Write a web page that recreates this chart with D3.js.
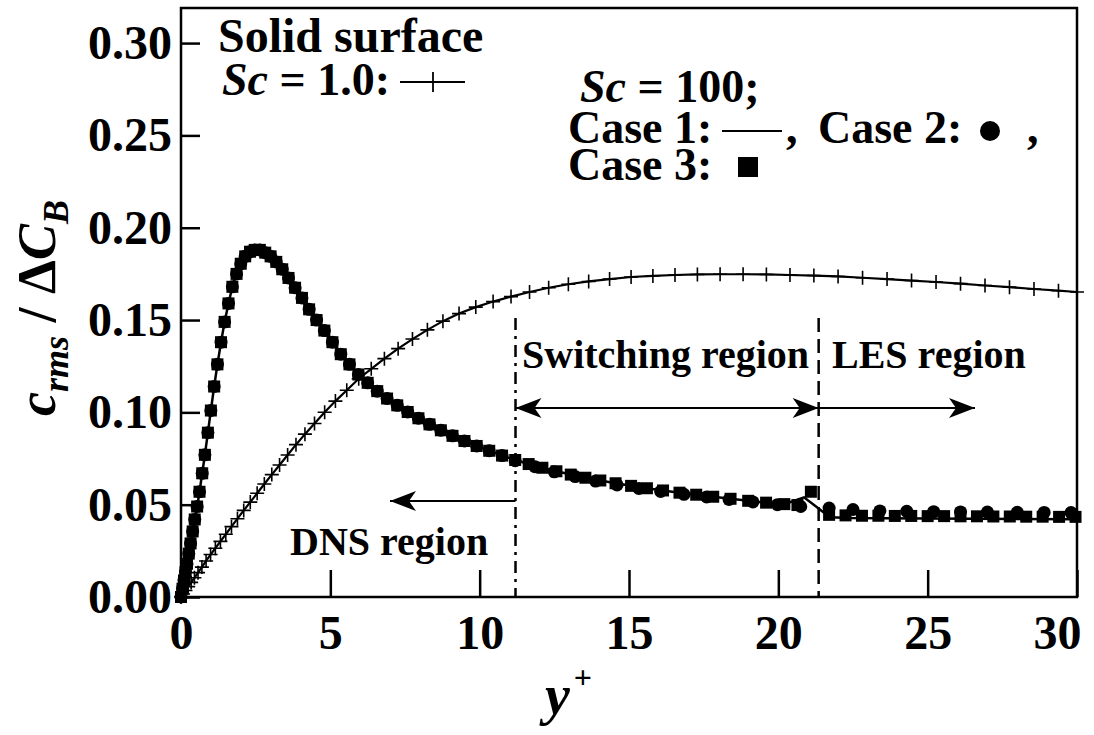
<!DOCTYPE html>
<html>
<head>
<meta charset="utf-8">
<script src="https://d3js.org/d3.v7.min.js"></script>
<style>
body { margin: 0; background: #fff; }
svg text { font-family: "Liberation Serif", "Times New Roman", serif; font-weight: bold; fill: #000; }
</style>
</head>
<body>
<div id="chart"></div>
<script>
// Axis ticks
var yPlusTicks = [0, 5, 10, 15, 20, 25, 30];
var cTicks = [0, 0.05, 0.10, 0.15, 0.20, 0.25, 0.30];

// Region bounds (y+)
var switchStart = 11.2;
var switchEnd = 21.35;

// Solid surface, Sc = 1.0 (line with + markers)
var sc1X = [0, 0.07, 0.15, 0.24, 0.34, 0.45, 0.57, 0.70, 0.84, 0.99, 1.15, 1.32, 1.50, 1.69, 1.89, 2.10, 2.32, 2.55, 2.79, 3.04, 3.30, 3.57, 3.85, 4.15, 4.47, 4.81, 5.17, 5.55, 5.95, 6.37, 6.81, 7.27, 7.75, 8.25, 8.77, 9.31, 9.87, 10.45, 11.05, 11.67, 12.31, 12.97, 13.65, 14.35, 15.07, 15.80, 16.54, 17.29, 18.05, 18.82, 19.60, 20.39, 21.19, 22.00, 22.82, 23.64, 24.46, 25.28, 26.10, 26.92, 27.74, 28.56, 29.38, 30.0];
var sc1Y = [0, 0.0016, 0.0035, 0.0056, 0.0079, 0.0104, 0.0132, 0.0162, 0.0195, 0.0230, 0.0264, 0.0301, 0.0340, 0.0381, 0.0424, 0.0469, 0.0514, 0.0562, 0.0612, 0.0663, 0.0715, 0.0769, 0.0825, 0.0882, 0.0940, 0.1001, 0.1061, 0.1120, 0.1182, 0.1236, 0.1291, 0.1345, 0.1397, 0.1447, 0.1494, 0.1535, 0.1570, 0.1600, 0.1627, 0.1652, 0.1675, 0.1694, 0.1709, 0.1722, 0.1733, 0.1739, 0.1744, 0.1747, 0.1748, 0.1748, 0.1747, 0.1744, 0.1741, 0.1736, 0.1729, 0.1722, 0.1714, 0.1706, 0.1697, 0.1687, 0.1678, 0.1668, 0.1659, 0.1652];

// Sc = 100, Case 1 (solid line)
var case1X = [0, 0.05, 0.1, 0.15, 0.2, 0.26, 0.32, 0.39, 0.46, 0.54, 0.62, 0.71, 0.8, 0.9, 1.0, 1.11, 1.22, 1.34, 1.46, 1.59, 1.72, 1.86, 2.0, 2.15, 2.31, 2.47, 2.64, 2.82, 3.0, 3.19, 3.39, 3.6, 3.82, 4.05, 4.29, 4.54, 4.8, 5.07, 5.35, 5.64, 5.94, 6.25, 6.57, 6.9, 7.24, 7.59, 7.95, 8.32, 8.7, 9.09, 9.49, 9.9, 10.32, 10.75, 11.19, 11.64, 12.1, 12.57, 13.05, 13.54, 14.04, 14.55, 15.07, 15.6, 16.14, 16.69, 17.25, 17.82, 18.4, 18.99, 19.59, 20.2, 20.86, 21.53, 21.75, 22.4, 23.5, 25.0, 26.5, 28.0, 30.0];
var case1Y = [0, 0.0045, 0.009, 0.0135, 0.018, 0.0235, 0.029, 0.0355, 0.042, 0.049, 0.057, 0.067, 0.077, 0.089, 0.101, 0.114, 0.126, 0.138, 0.149, 0.159, 0.168, 0.175, 0.1805, 0.1845, 0.187, 0.188, 0.188, 0.1865, 0.1845, 0.1815, 0.1775, 0.1728, 0.1675, 0.162, 0.1558, 0.150, 0.1443, 0.138, 0.1315, 0.126, 0.1205, 0.116, 0.1115, 0.1075, 0.1038, 0.1002, 0.0968, 0.0935, 0.0903, 0.0873, 0.0845, 0.0818, 0.0792, 0.0766, 0.0742, 0.0720, 0.0700, 0.0681, 0.0663, 0.0646, 0.0631, 0.0616, 0.0602, 0.0589, 0.0577, 0.0565, 0.0554, 0.0543, 0.0532, 0.0521, 0.0511, 0.0503, 0.0540, 0.0457, 0.0432, 0.0428, 0.0427, 0.0425, 0.0424, 0.0423, 0.0421];

// Sc = 100, Case 2 (circles)
var case2X = [0, 0.05, 0.1, 0.15, 0.2, 0.26, 0.32, 0.39, 0.46, 0.54, 0.62, 0.71, 0.8, 0.9, 1.0, 1.11, 1.22, 1.34, 1.46, 1.59, 1.72, 1.86, 2.0, 2.15, 2.31, 2.47, 2.64, 2.82, 3.0, 3.19, 3.39, 3.6, 3.82, 4.05, 4.29, 4.54, 4.8, 5.07, 5.35, 5.64, 5.94, 6.25, 6.57, 6.9, 7.24, 7.59, 7.95, 8.32, 8.7, 9.09, 9.49, 9.9, 10.32, 10.75, 11.19, 11.85, 12.5, 13.2, 13.88, 14.6, 15.33, 16.06, 16.84, 17.6, 18.35, 19.15, 19.97, 20.75, 21.7, 22.5, 23.4, 24.3, 25.2, 26.1, 27.0, 28.0, 28.9, 29.8];
var case2Y = [0, 0.0045, 0.009, 0.0135, 0.018, 0.0235, 0.029, 0.0355, 0.042, 0.049, 0.057, 0.067, 0.077, 0.089, 0.101, 0.114, 0.126, 0.138, 0.149, 0.159, 0.168, 0.175, 0.1805, 0.1845, 0.187, 0.188, 0.188, 0.1865, 0.1845, 0.1815, 0.1775, 0.1728, 0.1675, 0.162, 0.1558, 0.150, 0.1443, 0.138, 0.1315, 0.126, 0.1205, 0.116, 0.1115, 0.1075, 0.1038, 0.1002, 0.0968, 0.0935, 0.0903, 0.0873, 0.0845, 0.0818, 0.0792, 0.0766, 0.0738, 0.0706, 0.0678, 0.0652, 0.0628, 0.0607, 0.0588, 0.0572, 0.0556, 0.0542, 0.0528, 0.0515, 0.0500, 0.0490, 0.0482, 0.0474, 0.0466, 0.0464, 0.0462, 0.0461, 0.0460, 0.0459, 0.0458, 0.0457];

// Sc = 100, Case 3 (squares)
var case3X = [0, 0.05, 0.1, 0.15, 0.2, 0.26, 0.32, 0.39, 0.46, 0.54, 0.62, 0.71, 0.8, 0.9, 1.0, 1.11, 1.22, 1.34, 1.46, 1.59, 1.72, 1.86, 2.0, 2.15, 2.31, 2.47, 2.64, 2.82, 3.0, 3.19, 3.39, 3.6, 3.82, 4.05, 4.29, 4.54, 4.8, 5.07, 5.35, 5.64, 5.94, 6.25, 6.57, 6.9, 7.24, 7.59, 7.95, 8.32, 8.7, 9.09, 9.49, 9.9, 10.32, 10.75, 11.19, 11.64, 12.1, 12.57, 13.05, 13.54, 14.04, 14.55, 15.07, 15.6, 16.14, 16.69, 17.25, 17.82, 18.4, 18.99, 19.59, 20.2, 20.64, 21.09, 21.7, 22.25, 22.8, 23.35, 23.9, 24.45, 25.0, 25.55, 26.1, 26.65, 27.2, 27.75, 28.3, 28.85, 29.4, 29.95];
var case3Y = [0, 0.0045, 0.009, 0.0135, 0.018, 0.0235, 0.029, 0.0355, 0.042, 0.049, 0.057, 0.067, 0.077, 0.089, 0.101, 0.114, 0.126, 0.138, 0.149, 0.159, 0.168, 0.175, 0.1805, 0.1845, 0.187, 0.188, 0.188, 0.1865, 0.1845, 0.1815, 0.1775, 0.1728, 0.1675, 0.162, 0.1558, 0.150, 0.1443, 0.138, 0.1315, 0.126, 0.1205, 0.116, 0.1115, 0.1075, 0.1038, 0.1002, 0.0968, 0.0935, 0.0903, 0.0873, 0.0845, 0.0818, 0.0792, 0.0766, 0.0742, 0.0720, 0.0700, 0.0681, 0.0663, 0.0646, 0.0631, 0.0616, 0.0602, 0.0589, 0.0577, 0.0565, 0.0554, 0.0543, 0.0532, 0.0521, 0.0511, 0.0503, 0.0498, 0.0570, 0.0445, 0.0442, 0.0440, 0.0440, 0.0439, 0.0439, 0.0438, 0.0438, 0.0437, 0.0437, 0.0436, 0.0436, 0.0435, 0.0435, 0.0434, 0.0434];

//Width and height of page
var width = 1094;
var height = 735;

//Plot area edges
var plotLeft = 181, plotRight = 1077, plotTop = 8, plotBottom = 597;

var svg = d3.select("#chart")
    .append("svg")
    .attr("width", width)
    .attr("height", height);

//Scales
var x = d3.scaleLinear().domain([0, 30]).range([plotLeft, plotRight]);
var y = d3.scaleLinear().domain([0, 0.319]).range([plotBottom, plotTop]);

//Axes, ticks pointing inward
var yAxis = d3.axisLeft(y)
    .tickValues(cTicks)
    .tickSize(-19)
    .tickPadding(9)
    .tickFormat(d3.format(".2f"));
var xAxis = d3.axisBottom(x)
    .tickValues(yPlusTicks)
    .tickSize(-27)
    .tickPadding(18)
    .tickFormat(d3.format("d"));

var gy = svg.append("g")
    .attr("transform", "translate(" + plotLeft + ",0)")
    .call(yAxis);
var gx = svg.append("g")
    .attr("transform", "translate(0," + plotBottom + ")")
    .call(xAxis);

[gx, gy].forEach(function(g) {
    g.select(".domain").remove();
    g.selectAll(".tick line").attr("stroke", "#000").attr("stroke-width", 2.5);
    g.selectAll(".tick text")
        .style("font-size", "48px")
        .attr("fill", "#000");
});

// last x label kept inside the page
gx.selectAll(".tick text")
    .filter(function(d) { return d === 30; })
    .attr("text-anchor", "end")
    .attr("x", 4);

//Region boundaries
svg.append("line")
    .attr("x1", x(switchStart)).attr("x2", x(switchStart))
    .attr("y1", 318).attr("y2", plotBottom)
    .attr("stroke", "#000").attr("stroke-width", 2.5)
    .attr("stroke-dasharray", "12,6,3,6");
svg.append("line")
    .attr("x1", x(switchEnd)).attr("x2", x(switchEnd))
    .attr("y1", 318).attr("y2", plotBottom)
    .attr("stroke", "#000").attr("stroke-width", 2.5)
    .attr("stroke-dasharray", "14,7");

//Curves
var line = d3.line()
    .x(function(d) { return x(d[0]); })
    .y(function(d) { return y(d[1]); });

svg.append("path")
    .datum(d3.zip(sc1X, sc1Y))
    .attr("d", line)
    .attr("fill", "none")
    .attr("stroke", "#000")
    .attr("stroke-width", 2.2);

svg.selectAll(".plus")
    .data(d3.zip(sc1X, sc1Y))
    .enter()
    .append("path")
    .attr("class", "plus")
    .attr("transform", function(d) { return "translate(" + x(d[0]) + "," + y(d[1]) + ")"; })
    .attr("d", "M-7,0H7M0,-7V7")
    .attr("stroke", "#000")
    .attr("stroke-width", 1.6);

svg.append("path")
    .datum(d3.zip(case1X, case1Y))
    .attr("d", line)
    .attr("fill", "none")
    .attr("stroke", "#000")
    .attr("stroke-width", 2.5);

svg.selectAll(".dot")
    .data(d3.zip(case2X, case2Y))
    .enter()
    .append("circle")
    .attr("class", "dot")
    .attr("cx", function(d) { return x(d[0]); })
    .attr("cy", function(d) { return y(d[1]); })
    .attr("r", 6.5)
    .attr("fill", "#000");

svg.selectAll(".sq")
    .data(d3.zip(case3X, case3Y))
    .enter()
    .append("rect")
    .attr("class", "sq")
    .attr("x", function(d) { return x(d[0]) - 6; })
    .attr("y", function(d) { return y(d[1]) - 6; })
    .attr("width", 12)
    .attr("height", 12)
    .attr("fill", "#000");

//Frame
svg.append("rect")
    .attr("x", plotLeft).attr("y", plotTop)
    .attr("width", plotRight - plotLeft).attr("height", plotBottom - plotTop)
    .attr("fill", "none")
    .attr("stroke", "#000")
    .attr("stroke-width", 2.5);

//Arrows
function arrowHead(px, py, dir) {
    svg.append("path")
        .attr("transform", "translate(" + px + "," + py + ") scale(" + dir + ",1)")
        .attr("d", "M0,0L26,-10L19,0L26,10Z")
        .attr("fill", "#000");
}
function hLine(x1, x2, py) {
    svg.append("line")
        .attr("x1", x1).attr("x2", x2)
        .attr("y1", py).attr("y2", py)
        .attr("stroke", "#000").attr("stroke-width", 2.2);
}
hLine(x(switchStart), x(switchEnd), 408);
arrowHead(x(switchStart), 408, 1);
arrowHead(x(switchEnd), 408, -1);
hLine(x(switchEnd), 975, 408);
arrowHead(975, 408, -1);
hLine(390, x(switchStart), 501);
arrowHead(390, 501, 1);

//Region labels
svg.append("text").attr("x", 522).attr("y", 368).style("font-size", "40px").text("Switching region");
svg.append("text").attr("x", 832).attr("y", 368).style("font-size", "40px").text("LES region");
svg.append("text").attr("x", 290).attr("y", 555).style("font-size", "40px").text("DNS region");

//Legend
svg.append("text").attr("x", 218).attr("y", 52).style("font-size", "48px").text("Solid surface");

var t1 = svg.append("text").attr("x", 222).attr("y", 95).style("font-size", "46px");
t1.append("tspan").style("font-style", "italic").text("Sc");
t1.append("tspan").text(" = 1.0:");
hLine(400, 465, 82);
svg.append("path")
    .attr("transform", "translate(433,82)")
    .attr("d", "M0,-10V10")
    .attr("stroke", "#000").attr("stroke-width", 1.8);

var t2 = svg.append("text").attr("x", 580).attr("y", 102).style("font-size", "46px");
t2.append("tspan").style("font-style", "italic").text("Sc");
t2.append("tspan").text(" = 100;");

svg.append("text").attr("x", 568).attr("y", 143).style("font-size", "46px").text("Case 1:");
hLine(722, 782, 131);
svg.append("text").attr("x", 786).attr("y", 143).style("font-size", "46px").text(",");
svg.append("text").attr("x", 818).attr("y", 143).style("font-size", "46px").text("Case 2:");
svg.append("circle").attr("cx", 990).attr("cy", 131).attr("r", 10).attr("fill", "#000");
svg.append("text").attr("x", 1027).attr("y", 143).style("font-size", "46px").text(",");
svg.append("text").attr("x", 568).attr("y", 180).style("font-size", "46px").text("Case 3:");
svg.append("rect").attr("x", 738).attr("y", 157).attr("width", 20).attr("height", 20).attr("fill", "#000");

//Axis titles
var yTitle = svg.append("text")
    .attr("transform", "translate(55,308) rotate(-90)")
    .attr("text-anchor", "middle")
    .style("font-size", "54px")
    .style("font-style", "italic");
yTitle.append("tspan").text("c");
yTitle.append("tspan").attr("dy", 13).style("font-size", "36px").text("rms");
yTitle.append("tspan").attr("dy", -13).style("font-style", "normal").text(" / \u0394");
yTitle.append("tspan").text("C");
yTitle.append("tspan").attr("dy", 13).style("font-size", "36px").text("B");

var xTitle = svg.append("text")
    .attr("x", 545).attr("y", 714)
    .style("font-size", "56px");
xTitle.append("tspan").style("font-style", "italic").text("y");
xTitle.append("tspan").attr("dx", 4).attr("dy", -26).style("font-size", "32px").text("+");
</script>
</body>
</html>
